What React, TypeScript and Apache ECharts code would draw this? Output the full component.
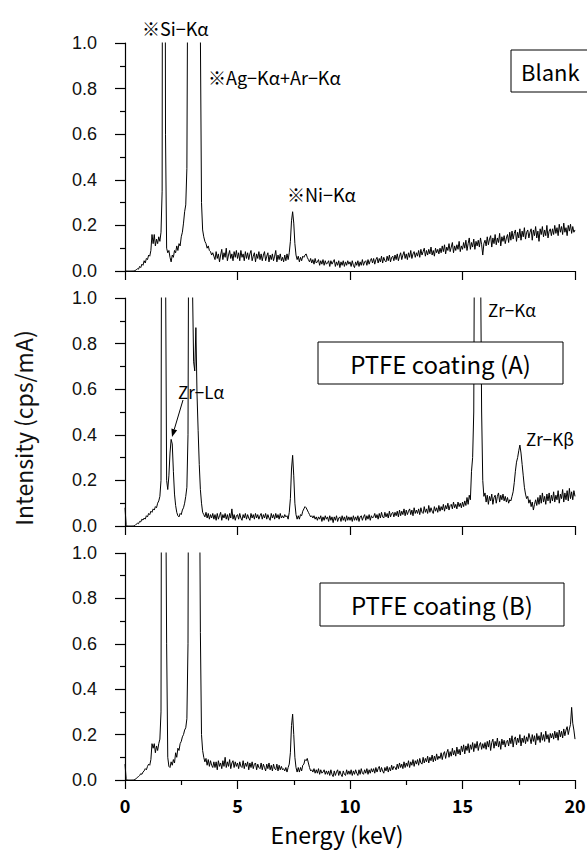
import React, { useEffect, useRef } from "react";
import * as echarts from "echarts";

// Energy channel spacing (keV); channel i sits at i * step, 0 .. 20 keV
const ENERGY_STEP_KEV = 0.05;
const X_MIN = 0;
const X_MAX = 20;
const X_INTERVAL = 5;
const Y_MIN = 0;
const Y_MAX = 1;
const Y_INTERVAL = 0.2;

// Intensity (cps/mA), one row per keV (20 channels each)
const BLANK = [
  0, 0, 0, 0, 0, 0, 0, 0, 0, 0.002, 0.005, 0.01, 0.008, 0.02, 0.015, 0.03, 0.025, 0.045, 0.035, 0.055,
  0.05, 0.07, 0.065, 0.09, 0.16, 0.12, 0.16, 0.11, 0.14, 0.12, 0.15, 0.13, 0.17, 0.35, 4.5, 4.0, 0.6, 0.1, 0.08, 0.09,
  0.06, 0.04, 0.07, 0.06, 0.09, 0.08, 0.11, 0.09, 0.12, 0.11, 0.15, 0.17, 0.21, 0.26, 0.29, 0.45, 1.6, 3.5, 5, 6,
  6, 5, 4.5, 4, 3.5, 2.8, 1.8, 1.05, 0.3, 0.18, 0.15, 0.13, 0.12, 0.1, 0.11, 0.09, 0.085, 0.07, 0.08, 0.065,
  0.05, 0.085, 0.055, 0.075, 0.04, 0.07, 0.095, 0.05, 0.08, 0.06, 0.1, 0.045, 0.07, 0.09, 0.055, 0.075, 0.045, 0.085, 0.06, 0.09,
  0.055, 0.08, 0.045, 0.09, 0.06, 0.075, 0.045, 0.085, 0.055, 0.08, 0.05, 0.075, 0.09, 0.045, 0.065, 0.08, 0.04, 0.075, 0.055, 0.085,
  0.05, 0.075, 0.045, 0.07, 0.085, 0.045, 0.065, 0.08, 0.04, 0.07, 0.05, 0.075, 0.045, 0.065, 0.09, 0.04, 0.07, 0.05, 0.075, 0.045,
  0.06, 0.04, 0.07, 0.045, 0.075, 0.05, 0.08, 0.13, 0.22, 0.26, 0.21, 0.12, 0.07, 0.05, 0.065, 0.04, 0.06, 0.045, 0.065, 0.06,
  0.07, 0.075, 0.06, 0.05, 0.04, 0.055, 0.035, 0.05, 0.03, 0.055, 0.035, 0.04, 0.05, 0.025, 0.045, 0.03, 0.05, 0.025, 0.045, 0.03,
  0.035, 0.045, 0.02, 0.045, 0.03, 0.04, 0.05, 0.02, 0.04, 0.025, 0.045, 0.015, 0.04, 0.025, 0.045, 0.02, 0.04, 0.025, 0.045, 0.03,
  0.04, 0.02, 0.045, 0.025, 0.015, 0.04, 0.025, 0.045, 0.02, 0.04, 0.025, 0.05, 0.025, 0.04, 0.045, 0.025, 0.05, 0.03, 0.045, 0.055,
  0.035, 0.055, 0.03, 0.05, 0.06, 0.035, 0.055, 0.04, 0.065, 0.035, 0.06, 0.045, 0.04, 0.065, 0.045, 0.07, 0.04, 0.06, 0.065, 0.045,
  0.07, 0.05, 0.075, 0.045, 0.065, 0.08, 0.05, 0.07, 0.085, 0.055, 0.075, 0.05, 0.08, 0.06, 0.09, 0.055, 0.075, 0.085, 0.06, 0.08,
  0.065, 0.09, 0.06, 0.095, 0.07, 0.085, 0.1, 0.065, 0.09, 0.07, 0.095, 0.075, 0.105, 0.07, 0.09, 0.065, 0.1, 0.08, 0.095, 0.075,
  0.1, 0.08, 0.11, 0.085, 0.115, 0.075, 0.105, 0.09, 0.12, 0.085, 0.105, 0.125, 0.08, 0.11, 0.09, 0.115, 0.095, 0.13, 0.085, 0.11,
  0.095, 0.125, 0.1, 0.135, 0.09, 0.12, 0.145, 0.095, 0.125, 0.105, 0.14, 0.095, 0.13, 0.11, 0.135, 0.105, 0.145, 0.115, 0.07, 0.12,
  0.135, 0.11, 0.15, 0.115, 0.14, 0.155, 0.105, 0.145, 0.12, 0.16, 0.115, 0.145, 0.125, 0.165, 0.11, 0.15, 0.13, 0.155, 0.12, 0.145,
  0.16, 0.125, 0.17, 0.135, 0.175, 0.14, 0.165, 0.18, 0.13, 0.17, 0.145, 0.185, 0.135, 0.175, 0.15, 0.19, 0.14, 0.17, 0.18, 0.145,
  0.17, 0.185, 0.135, 0.18, 0.155, 0.195, 0.145, 0.175, 0.13, 0.185, 0.16, 0.195, 0.15, 0.18, 0.155, 0.2, 0.145, 0.175, 0.185, 0.155,
  0.185, 0.16, 0.2, 0.165, 0.19, 0.155, 0.205, 0.17, 0.195, 0.16, 0.21, 0.17, 0.19, 0.155, 0.2, 0.175, 0.205, 0.165, 0.195, 0.17,
  0.18,
];

const PTFE_A = [
  0.08, 0.005, 0, 0, 0, 0, 0, 0, 0, 0.003, 0.008, 0.012, 0.01, 0.02, 0.018, 0.03, 0.026, 0.035, 0.03, 0.045,
  0.04, 0.055, 0.05, 0.065, 0.06, 0.075, 0.07, 0.085, 0.08, 0.1, 0.11, 0.13, 0.2, 2.5, 5, 4.5, 1.2, 0.2, 0.16, 0.22,
  0.32, 0.38, 0.36, 0.24, 0.14, 0.09, 0.06, 0.045, 0.04, 0.055, 0.05, 0.07, 0.08, 0.1, 0.13, 0.17, 0.4, 2.0, 4, 3.5,
  1.05, 0.72, 0.68, 0.87, 0.58, 0.42, 0.27, 0.16, 0.1, 0.06, 0.05, 0.04, 0.06, 0.035, 0.055, 0.03, 0.05, 0.035, 0.055, 0.03,
  0.05, 0.025, 0.055, 0.03, 0.045, 0.06, 0.025, 0.05, 0.035, 0.055, 0.03, 0.05, 0.025, 0.055, 0.035, 0.075, 0.03, 0.05, 0.025, 0.045,
  0.05, 0.03, 0.055, 0.035, 0.025, 0.05, 0.035, 0.055, 0.03, 0.05, 0.035, 0.025, 0.055, 0.035, 0.05, 0.03, 0.055, 0.035, 0.05, 0.03,
  0.045, 0.055, 0.03, 0.05, 0.035, 0.055, 0.03, 0.05, 0.035, 0.025, 0.055, 0.035, 0.05, 0.03, 0.055, 0.035, 0.05, 0.03, 0.055, 0.035,
  0.045, 0.035, 0.05, 0.04, 0.045, 0.03, 0.06, 0.12, 0.25, 0.31, 0.22, 0.1, 0.05, 0.03, 0.045, 0.03, 0.05, 0.045, 0.065, 0.075,
  0.085, 0.08, 0.07, 0.06, 0.05, 0.04, 0.045, 0.035, 0.045, 0.03, 0.04, 0.025, 0.04, 0.03, 0.045, 0.02, 0.04, 0.025, 0.045, 0.03,
  0.04, 0.02, 0.045, 0.025, 0.04, 0.015, 0.04, 0.025, 0.045, 0.02, 0.035, 0.04, 0.02, 0.045, 0.025, 0.04, 0.02, 0.045, 0.025, 0.04,
  0.025, 0.04, 0.02, 0.045, 0.025, 0.04, 0.025, 0.045, 0.02, 0.04, 0.045, 0.025, 0.04, 0.05, 0.025, 0.045, 0.03, 0.05, 0.025, 0.045,
  0.035, 0.04, 0.055, 0.035, 0.05, 0.03, 0.055, 0.035, 0.06, 0.04, 0.035, 0.06, 0.04, 0.055, 0.035, 0.065, 0.04, 0.055, 0.06, 0.04,
  0.06, 0.045, 0.065, 0.04, 0.07, 0.045, 0.065, 0.05, 0.075, 0.045, 0.07, 0.05, 0.065, 0.075, 0.05, 0.07, 0.045, 0.08, 0.055, 0.07,
  0.055, 0.075, 0.05, 0.08, 0.06, 0.055, 0.085, 0.06, 0.075, 0.055, 0.09, 0.06, 0.08, 0.065, 0.055, 0.085, 0.065, 0.08, 0.06, 0.09,
  0.065, 0.085, 0.07, 0.095, 0.065, 0.09, 0.075, 0.1, 0.07, 0.09, 0.095, 0.075, 0.105, 0.08, 0.095, 0.075, 0.105, 0.085, 0.1, 0.08,
  0.105, 0.085, 0.11, 0.09, 0.125, 0.095, 0.135, 0.115, 0.24, 0.3, 0.5, 1.8, 5, 6, 5.5, 3, 1.2, 0.5, 0.2, 0.13,
  0.145, 0.105, 0.135, 0.095, 0.13, 0.11, 0.14, 0.095, 0.125, 0.135, 0.1, 0.13, 0.145, 0.105, 0.135, 0.115, 0.14, 0.11, 0.13, 0.105,
  0.125, 0.1, 0.115, 0.11, 0.13, 0.15, 0.19, 0.24, 0.28, 0.3, 0.33, 0.355, 0.32, 0.27, 0.22, 0.17, 0.14, 0.12, 0.13, 0.1,
  0.115, 0.085, 0.105, 0.07, 0.095, 0.115, 0.09, 0.125, 0.095, 0.135, 0.1, 0.145, 0.105, 0.13, 0.095, 0.14, 0.11, 0.145, 0.1, 0.135,
  0.11, 0.15, 0.105, 0.135, 0.115, 0.155, 0.1, 0.14, 0.12, 0.16, 0.105, 0.145, 0.115, 0.155, 0.11, 0.165, 0.12, 0.15, 0.115, 0.155,
  0.13,
];

const PTFE_B = [
  0.07, 0.005, 0, 0, 0, 0, 0, 0, 0, 0.003, 0.006, 0.012, 0.015, 0.02, 0.028, 0.025, 0.035, 0.04, 0.05, 0.045,
  0.06, 0.07, 0.065, 0.09, 0.16, 0.14, 0.16, 0.12, 0.15, 0.13, 0.16, 0.18, 0.3, 3, 5, 4.5, 1.5, 0.6, 0.1, 0.06,
  0.055, 0.08, 0.065, 0.09, 0.075, 0.12, 0.1, 0.14, 0.13, 0.16, 0.17, 0.19, 0.2, 0.22, 0.23, 0.27, 0.6, 2.5, 4.5, 6,
  6, 5, 4.5, 4, 3.2, 2.5, 1.6, 0.65, 0.2, 0.13, 0.1, 0.08, 0.095, 0.065, 0.09, 0.06, 0.085, 0.065, 0.055, 0.08,
  0.055, 0.08, 0.045, 0.085, 0.06, 0.075, 0.05, 0.085, 0.06, 0.1, 0.055, 0.08, 0.06, 0.09, 0.05, 0.075, 0.085, 0.055, 0.08, 0.06,
  0.075, 0.05, 0.08, 0.06, 0.055, 0.085, 0.05, 0.075, 0.06, 0.08, 0.045, 0.075, 0.055, 0.08, 0.05, 0.07, 0.075, 0.045, 0.07, 0.055,
  0.05, 0.075, 0.045, 0.07, 0.055, 0.04, 0.07, 0.05, 0.075, 0.045, 0.065, 0.04, 0.07, 0.05, 0.045, 0.07, 0.04, 0.065, 0.045, 0.06,
  0.045, 0.05, 0.04, 0.055, 0.035, 0.055, 0.07, 0.12, 0.24, 0.29, 0.2, 0.1, 0.055, 0.035, 0.055, 0.035, 0.055, 0.04, 0.065, 0.07,
  0.09, 0.085, 0.095, 0.075, 0.055, 0.04, 0.045, 0.035, 0.05, 0.03, 0.045, 0.03, 0.05, 0.025, 0.045, 0.03, 0.035, 0.045, 0.025, 0.04,
  0.025, 0.04, 0.02, 0.045, 0.025, 0.015, 0.04, 0.02, 0.035, 0.045, 0.02, 0.04, 0.025, 0.015, 0.04, 0.025, 0.02, 0.045, 0.025, 0.04,
  0.025, 0.045, 0.02, 0.04, 0.025, 0.045, 0.03, 0.02, 0.045, 0.025, 0.05, 0.03, 0.025, 0.045, 0.03, 0.05, 0.025, 0.045, 0.03, 0.05,
  0.035, 0.05, 0.03, 0.055, 0.035, 0.05, 0.06, 0.035, 0.055, 0.04, 0.03, 0.055, 0.04, 0.06, 0.035, 0.055, 0.04, 0.065, 0.045, 0.06,
  0.055, 0.045, 0.07, 0.05, 0.075, 0.055, 0.07, 0.05, 0.08, 0.055, 0.075, 0.06, 0.085, 0.055, 0.08, 0.065, 0.09, 0.06, 0.085, 0.07,
  0.09, 0.065, 0.095, 0.075, 0.07, 0.1, 0.075, 0.095, 0.08, 0.105, 0.075, 0.1, 0.085, 0.11, 0.08, 0.105, 0.085, 0.115, 0.09, 0.105,
  0.095, 0.12, 0.09, 0.115, 0.125, 0.095, 0.12, 0.135, 0.1, 0.125, 0.105, 0.14, 0.11, 0.13, 0.105, 0.145, 0.115, 0.135, 0.11, 0.15,
  0.125, 0.155, 0.115, 0.15, 0.13, 0.16, 0.12, 0.155, 0.135, 0.165, 0.125, 0.16, 0.14, 0.17, 0.13, 0.155, 0.165, 0.135, 0.16, 0.14,
  0.165, 0.135, 0.17, 0.145, 0.175, 0.13, 0.165, 0.18, 0.14, 0.17, 0.15, 0.185, 0.145, 0.17, 0.135, 0.18, 0.155, 0.175, 0.145, 0.17,
  0.175, 0.15, 0.185, 0.16, 0.195, 0.145, 0.18, 0.19, 0.155, 0.185, 0.165, 0.2, 0.15, 0.185, 0.165, 0.195, 0.16, 0.19, 0.17, 0.205,
  0.185, 0.16, 0.2, 0.17, 0.195, 0.155, 0.205, 0.175, 0.195, 0.165, 0.21, 0.175, 0.2, 0.17, 0.215, 0.18, 0.2, 0.165, 0.205, 0.185,
  0.205, 0.18, 0.215, 0.185, 0.21, 0.175, 0.22, 0.19, 0.215, 0.185, 0.225, 0.195, 0.22, 0.235, 0.2, 0.225, 0.245, 0.32, 0.25, 0.22,
  0.18,
];

const PANEL_SERIES = [
  { name: "Blank", values: BLANK },
  { name: "PTFE coating (A)", values: PTFE_A },
  { name: "PTFE coating (B)", values: PTFE_B },
];

const SANS = '"Liberation Sans", Arial, sans-serif';
const CJK = '"Noto Sans CJK JP", sans-serif';

const GRID_LEFT = 125;
const GRID_WIDTH = 450;
const GRIDS = [
  { top: 43, height: 228 },
  { top: 298, height: 228 },
  { top: 553, height: 227 },
];

const toPairs = (vals: number[]) =>
  vals.map((v, i) => [Math.round(i * ENERGY_STEP_KEV * 100) / 100, v]);

const annText = (text: string, x: number, y: number, size = 17, align = "left") => ({
  type: "text",
  x,
  y,
  z: 100,
  style: {
    text,
    fontSize: size,
    fontFamily: CJK,
    fill: "#000",
    textAlign: align,
    textVerticalAlign: "middle",
  },
});

const box = (x: number, y: number, w: number, h: number) => ({
  type: "rect",
  z: 90,
  shape: { x, y, width: w, height: h },
  style: { fill: "#fff", stroke: "#000", lineWidth: 1 },
});

export default function App() {
  const ref = useRef<HTMLDivElement>(null);

  useEffect(() => {
    if (!ref.current) return;
    const chart = echarts.init(ref.current, null, { renderer: "svg" });

    const xAxes = GRIDS.map((_, i) => ({
      type: "value",
      gridIndex: i,
      min: X_MIN,
      max: X_MAX,
      interval: X_INTERVAL,
      axisLine: { show: true, onZero: false, lineStyle: { color: "#000", width: 1.2 } },
      axisTick: { show: true, inside: false, length: 9, lineStyle: { color: "#000", width: 1.2 } },
      minorTick: {
        show: i === 2,
        splitNumber: 2,
        length: 5,
        lineStyle: { color: "#000", width: 1.2 },
      },
      splitLine: { show: false },
      minorSplitLine: { show: false },
      axisLabel: {
        show: i === 2,
        margin: 16,
        fontSize: 18,
        fontWeight: "bold",
        fontFamily: CJK,
        color: "#000",
      },
    }));

    const yAxes = GRIDS.map((_, i) => ({
      type: "value",
      gridIndex: i,
      min: Y_MIN,
      max: Y_MAX,
      interval: Y_INTERVAL,
      axisLine: { show: true, onZero: false, lineStyle: { color: "#000", width: 1.2 } },
      axisTick: { show: true, inside: false, length: 10, lineStyle: { color: "#000", width: 1.2 } },
      minorTick: { show: true, splitNumber: 2, length: 5, lineStyle: { color: "#000", width: 1.2 } },
      splitLine: { show: false },
      minorSplitLine: { show: false },
      axisLabel: {
        margin: 28,
        fontSize: 18,
        fontFamily: SANS,
        color: "#111",
        formatter: (v: number) => v.toFixed(1),
      },
    }));

    const series = PANEL_SERIES.map((p, i) => ({
      type: "line",
      name: p.name,
      xAxisIndex: i,
      yAxisIndex: i,
      data: toPairs(p.values),
      showSymbol: false,
      symbol: "none",
      clip: true,
      lineStyle: { color: "#000", width: 1 },
      z: 5,
    }));

    // arrow for Zr-Lα: from (183,400) to tip (172,437)
    const tip = [172, 437];
    const tail = [183, 400];
    const dx = tip[0] - tail[0];
    const dy = tip[1] - tail[1];
    const len = Math.hypot(dx, dy);
    const ux = dx / len;
    const uy = dy / len;
    const bx = tip[0] - ux * 8;
    const by = tip[1] - uy * 8;
    const px = -uy * 3;
    const py = ux * 3;

    const option = {
      animation: false,
      backgroundColor: "#fff",
      grid: GRIDS.map((g) => ({
        left: GRID_LEFT,
        width: GRID_WIDTH,
        top: g.top,
        height: g.height,
        outerBoundsMode: "none",
        containLabel: false,
      })),
      xAxis: xAxes,
      yAxis: yAxes,
      series,
      graphic: [
        {
          type: "text",
          x: 23,
          y: 428,
          rotation: Math.PI / 2,
          z: 100,
          style: {
            text: "Intensity (cps/mA)",
            fontSize: 23,
            fontFamily: CJK,
            fill: "#111",
            textAlign: "center",
            textVerticalAlign: "middle",
          },
        },
        annText("Energy (keV)", 337, 834, 23, "center"),
        annText("※Si−Kα", 142, 27.5, 18),
        annText("※Ag−Kα+Ar−Kα", 208, 77, 18),
        annText("※Ni−Kα", 287, 194, 18),
        annText("Zr−Lα", 178, 391, 17),
        annText("Zr−Kα", 488, 309, 17),
        annText("Zr−Kβ", 526, 438, 17),
        box(511, 50, 95, 42),
        annText("Blank", 521, 71, 22),
        box(318, 342, 245, 42),
        annText("PTFE coating (A)", 440.5, 363, 24, "center"),
        box(320, 583, 244, 43),
        annText("PTFE coating (B)", 442, 604.5, 24, "center"),
        {
          type: "line",
          z: 100,
          shape: { x1: tail[0], y1: tail[1], x2: bx, y2: by },
          style: { stroke: "#000", lineWidth: 1 },
        },
        {
          type: "polygon",
          z: 100,
          shape: {
            points: [
              [tip[0], tip[1]],
              [bx + px, by + py],
              [bx - px, by - py],
            ],
          },
          style: { fill: "#000" },
        },
      ],
    };

    chart.setOption(option as any);
    return () => chart.dispose();
  }, []);

  return (
    <div
      ref={ref}
      style={{ position: "absolute", left: 0, top: 0, width: 587, height: 853, background: "#fff" }}
    />
  );
}
